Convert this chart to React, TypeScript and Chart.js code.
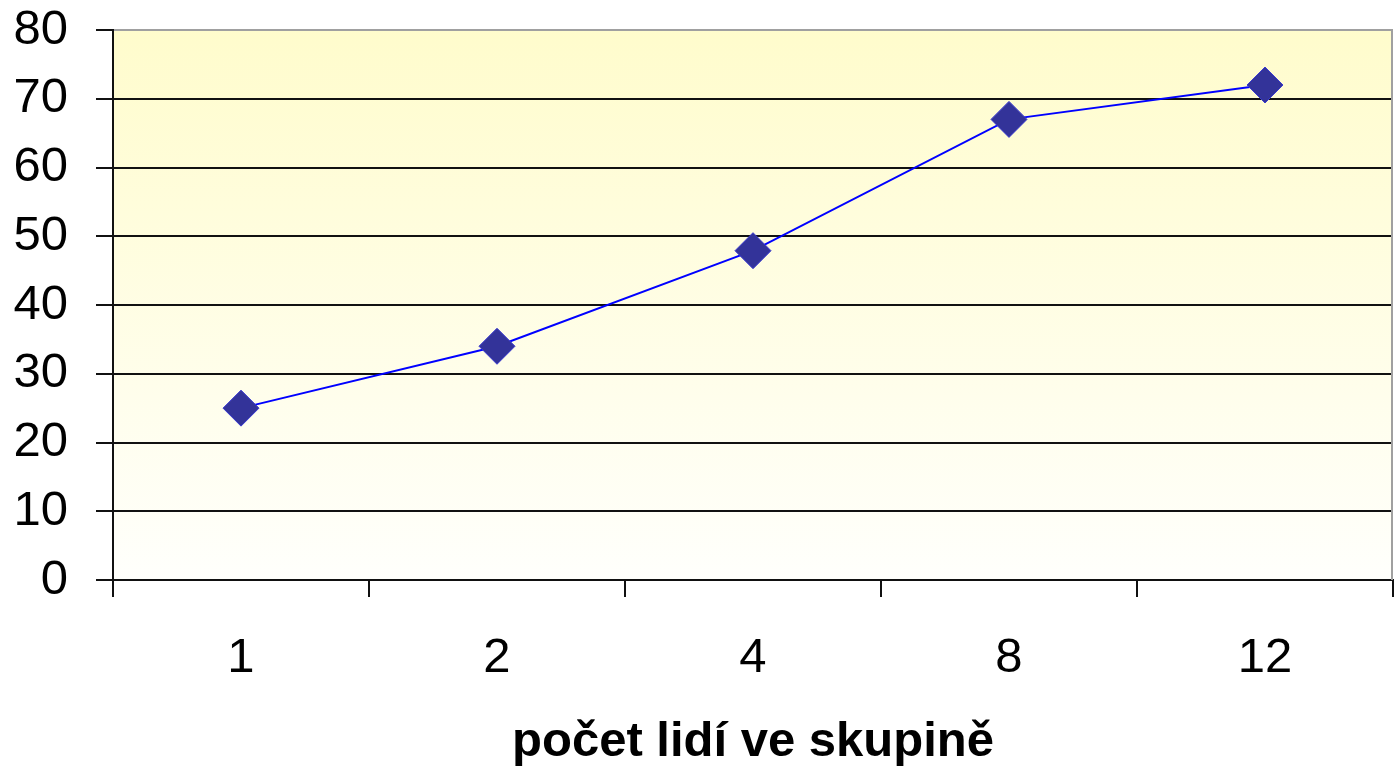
import React, { useEffect, useRef } from "react";
import { Chart, registerables } from "chart.js";

Chart.register(...registerables);

const categories: string[] = ["1", "2", "4", "8", "12"];
const values: number[] = [25, 34, 47.9, 67, 72];
const yTicksMin = 0;
const yTicksMax = 80;
const yTicksStep = 10;
const xTitle = "počet lidí ve skupině";

const FONT = 'Arial, "Liberation Sans", sans-serif';

const bgPlugin = {
  id: "bgGradient",
  beforeDraw(chart: any) {
    const { ctx, chartArea } = chart;
    if (!chartArea) return;
    const g = ctx.createLinearGradient(0, chartArea.top, 0, chartArea.bottom);
    g.addColorStop(0, "rgb(255,252,204)");
    g.addColorStop(1, "rgb(255,255,252)");
    ctx.save();
    ctx.fillStyle = g;
    ctx.fillRect(chartArea.left, chartArea.top, chartArea.right - chartArea.left, chartArea.bottom - chartArea.top);
    ctx.restore();
  },
  afterDatasetsDraw(chart: any) {
    const { ctx, chartArea } = chart;
    ctx.save();
    ctx.strokeStyle = "#a0a0a0";
    ctx.lineWidth = 2;
    ctx.beginPath();
    ctx.moveTo(chartArea.right - 1, chartArea.top);
    ctx.lineTo(chartArea.right - 1, chartArea.bottom);
    ctx.stroke();
    ctx.restore();
  },
};

export default function App() {
  const ref = useRef<HTMLCanvasElement | null>(null);
  useEffect(() => {
    document.body.style.margin = "0";
    const canvas = ref.current;
    if (!canvas) return;
    const chart = new Chart(canvas, {
      type: "line",
      data: {
        labels: categories,
        datasets: [
          {
            data: values,
            borderColor: "#0000ff",
            borderWidth: 2,
            pointStyle: "rectRot",
            pointRadius: 18,
            pointBackgroundColor: "#333399",
            pointBorderColor: "#3a3ad0",
            pointBorderWidth: 1,
            tension: 0,
          },
        ],
      },
      options: {
        responsive: false,
        animation: false,
        devicePixelRatio: 1,
        layout: { autoPadding: false, padding: { top: 30, right: 4, left: 0, bottom: 0 } },
        plugins: { legend: { display: false }, tooltip: { enabled: false } },
        scales: {
          x: {
            type: "category",
            offset: true,
            grid: {
              offset: true,
              drawOnChartArea: false,
              tickLength: 17,
              tickColor: "#111",
              lineWidth: 2,
              color: "#111",
            },
            border: { color: "#111", width: 2 },
            ticks: {
              color: "#000",
              font: { family: FONT, size: 49 },
              padding: 32,
              maxRotation: 0,
            },
            title: {
              display: true,
              text: xTitle,
              color: "#000",
              font: { family: FONT, size: 49, weight: "bold" },
              padding: { top: 0, bottom: -5 },
            },
            afterFit(scale: any) {
              scale.height = 187;
              scale.paddingLeft = 0;
              scale.paddingRight = 0;
            },
          },
          y: {
            min: yTicksMin,
            max: yTicksMax,
            ticks: {
              stepSize: yTicksStep,
              color: "#000",
              font: { family: FONT, size: 49 },
              padding: 28,
            },
            grid: {
              color: (c: any) => (c.tick && c.tick.value === yTicksMax ? "#a0a0a0" : "#111"),
              tickColor: "#111",
              lineWidth: 2,
              tickLength: 17,
            },
            border: { color: "#111", width: 2 },
            afterFit(scale: any) {
              scale.width = 113;
              scale.paddingTop = 0;
              scale.paddingBottom = 0;
            },
          },
        },
      },
      plugins: [bgPlugin],
    });
    return () => chart.destroy();
  }, []);
  return (
    <div style={{ position: "absolute", left: 0, top: 0, width: 1397, height: 767 }}>
      <canvas ref={ref} width={1397} height={767} />
    </div>
  );
}
